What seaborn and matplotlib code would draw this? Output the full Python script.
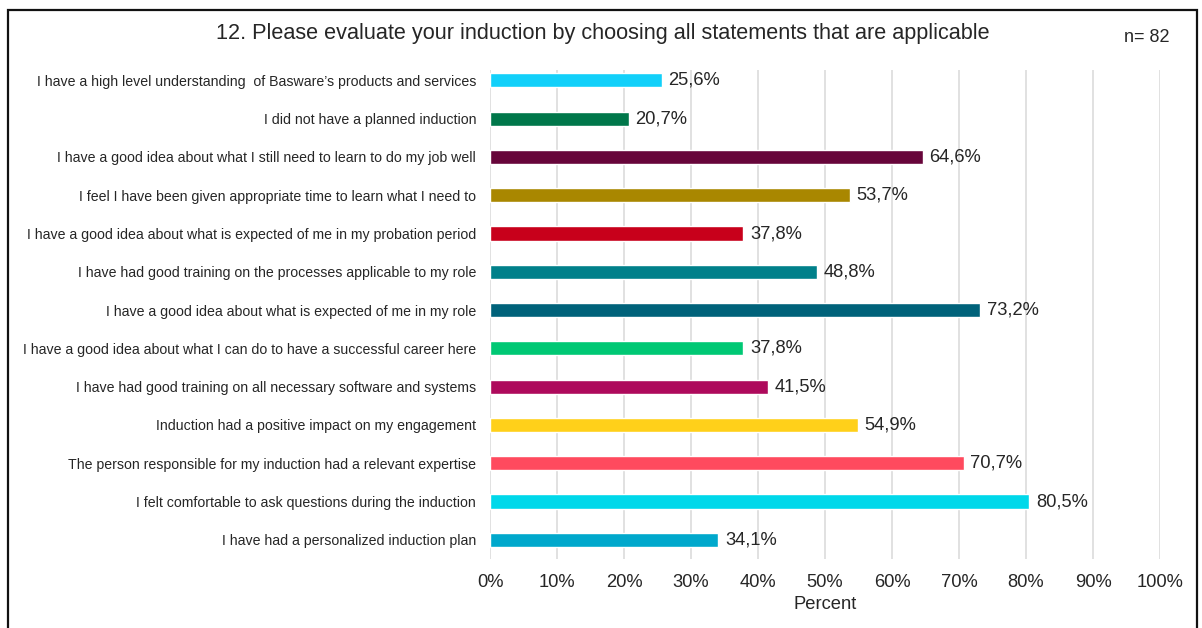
import matplotlib
matplotlib.use("Agg")
import matplotlib.pyplot as plt
import matplotlib.patches as mpatches
import seaborn as sns
import pandas as pd

# Survey statements (top to bottom) and share of respondents choosing each
statements = [
    "I have a high level understanding  of Basware\u2019s products and services",
    "I did not have a planned induction",
    "I have a good idea about what I still need to learn to do my job well",
    "I feel I have been given appropriate time to learn what I need to",
    "I have a good idea about what is expected of me in my probation period",
    "I have had good training on the processes applicable to my role",
    "I have a good idea about what is expected of me in my role",
    "I have a good idea about what I can do to have a successful career here",
    "I have had good training on all necessary software and systems",
    "Induction had a positive impact on my engagement",
    "The person responsible for my induction had a relevant expertise",
    "I felt comfortable to ask questions during the induction",
    "I have had a personalized induction plan",
]
percent = [25.6, 20.7, 64.6, 53.7, 37.8, 48.8, 73.2, 37.8, 41.5, 54.9, 70.7, 80.5, 34.1]
bar_colors = [
    "#12D0FA", "#00774A", "#67053A", "#A98700", "#C8001B", "#00808A", "#00627A",
    "#00C874", "#AE0A5C", "#FFD01A", "#FF4A5E", "#00D8EA", "#00A8CC",
]
x_ticks = [0, 10, 20, 30, 40, 50, 60, 70, 80, 90, 100]
x_tick_labels = [f"{t}%" for t in x_ticks]
title = "12. Please evaluate your induction by choosing all statements that are applicable"
sample_note = "n= 82"

df = pd.DataFrame({"statement": statements, "percent": percent})

sns.set_theme(style="white")
plt.rcParams["font.family"] = ["Liberation Sans", "DejaVu Sans"]
text_color = "#262626"

W, H = 1202, 628
fig = plt.figure(figsize=(W / 100, H / 100), dpi=100)
ax = fig.add_axes([490 / W, 1 - 559 / H, (1160 - 490) / W, (559 - 70) / H])

sns.barplot(
    data=df, y="statement", x="percent", hue="statement",
    palette=bar_colors, order=statements, hue_order=statements,
    orient="h", width=0.37, legend=False, ax=ax, saturation=1,
)

ax.set_xlim(0, 100)
ax.set_ylim(12.5, -0.27)
ax.set_xticks(x_ticks)
ax.set_xticklabels(x_tick_labels, fontsize=13.2, color=text_color)
ax.tick_params(axis="x", length=0, pad=10.5)
ax.tick_params(axis="y", length=0, pad=10, labelsize=10.2, labelcolor=text_color)
ax.xaxis.grid(True, color="#D9D9D9", linewidth=1.1)
ax.set_axisbelow(True)
for side in ax.spines.values():
    side.set_visible(False)
ax.set_ylabel("")
ax.set_xlabel("Percent", fontsize=13.2, color=text_color, labelpad=4)

for i, v in enumerate(percent):
    ax.text(v + 1.0, i, f"{v:.1f}%".replace(".", ","), va="center", ha="left",
            fontsize=13.2, color=text_color)

fig.text(603 / W, 1 - 33 / H, title, ha="center", va="center", fontsize=15.6, color=text_color)
fig.text(1147 / W, 1 - 37 / H, sample_note, ha="center", va="center", fontsize=13, color=text_color)

# outer frame, open at the bottom edge of the image
frame = mpatches.Rectangle((8 / W, -0.05), (1197 - 8) / W, 1.05 - 10 / H,
                           transform=fig.transFigure, fill=False,
                           edgecolor="#111111", linewidth=1.6, clip_on=False)
fig.patches.append(frame)

fig.savefig("out.png", dpi=100, facecolor="white")
